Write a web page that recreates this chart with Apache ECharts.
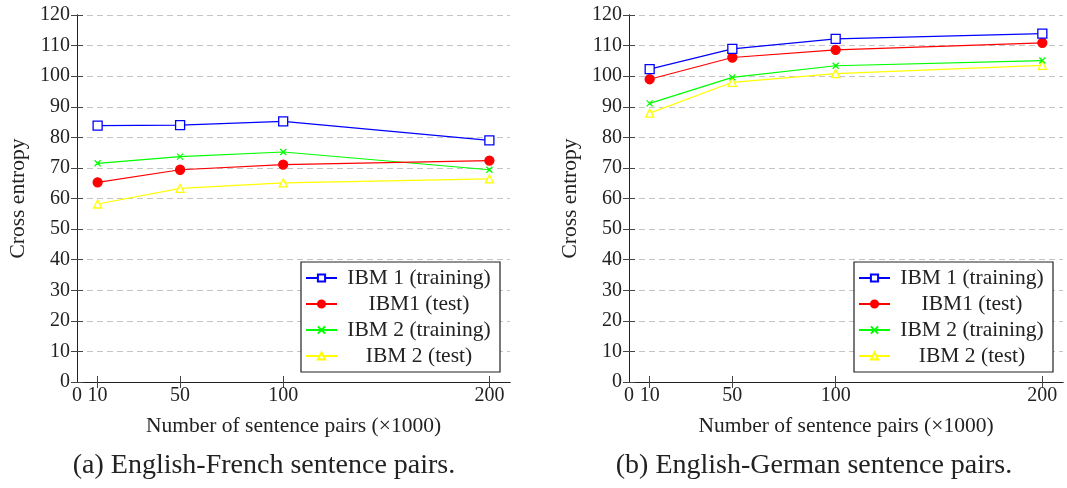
<!DOCTYPE html>
<html><head><meta charset="utf-8">
<script src="https://cdn.jsdelivr.net/npm/echarts@6/dist/echarts.min.js"></script>
<style>html,body{margin:0;padding:0;background:#fff}#c{width:1067px;height:488px}</style>
</head><body><div id="c"></div>
<script>
const xValues = [10, 50, 100, 200];
const xTickLabels = [0, 10, 50, 100, 200];
const seriesNames = ['IBM 1 (training)', 'IBM1 (test)', 'IBM 2 (training)', 'IBM 2 (test)'];
// English-French
const frIBM1Train = [83.8, 84.0, 85.2, 79.0];
const frIBM1Test  = [65.3, 69.4, 71.1, 72.4];
const frIBM2Train = [71.5, 73.7, 75.2, 69.4];
const frIBM2Test  = [58.2, 63.3, 65.1, 66.4];
// English-German
const deIBM1Train = [102.3, 108.9, 112.2, 113.9];
const deIBM1Test  = [99.0, 106.1, 108.6, 110.9];
const deIBM2Train = [91.1, 99.6, 103.4, 105.1];
const deIBM2Test  = [87.9, 98.0, 100.8, 103.5];
const captions = ['(a) English-French sentence pairs.', '(b) English-German sentence pairs.'];
const xName = 'Number of sentence pairs (\u00d71000)';
const yName = 'Cross entropy';

const FONT = '"Liberation Serif", "DejaVu Serif", serif';
const grids = [
  {left: 77, top: 15, width: 433, height: 367},
  {left: 629, top: 15, width: 434, height: 367}
];
const styles = [
  {color: '#0000ff', symbol: 'rect', symbolSize: 9, fill: '#ffffff'},
  {color: '#ff0000', symbol: 'circle', symbolSize: 9, fill: '#ff0000'},
  {color: '#00ff00', symbol: 'path://M0,0L10,10M10,0L0,10', symbolSize: 6, fill: 'none'},
  {color: '#ffff00', symbol: 'triangle', symbolSize: 8, fill: '#ffffff'}
];
const dataSets = [
  [frIBM1Train, frIBM1Test, frIBM2Train, frIBM2Test],
  [deIBM1Train, deIBM1Test, deIBM2Train, deIBM2Test]
];

const xAxes = [], yAxes = [], series = [], legends = [], graphics = [];
grids.forEach((g, gi) => {
  xAxes.push({
    gridIndex: gi, type: 'value', min: 0, max: 210, position: 'bottom',
    name: xName, nameLocation: 'middle', nameGap: 33,
    nameTextStyle: {fontFamily: FONT, fontSize: 21.5, color: '#222'},
    axisLine: {lineStyle: {color: '#222', width: 1}},
    axisTick: {inside: true, length: 6, customValues: xValues, lineStyle: {color: '#444'}},
    axisLabel: {customValues: xTickLabels, fontFamily: FONT, fontSize: 20, color: '#222', margin: 4},
    splitLine: {show: false}
  });
  xAxes.push({
    gridIndex: gi, type: 'value', min: 0, max: 210, position: 'top',
    axisLine: {lineStyle: {color: '#222', width: 1}},
    axisTick: {inside: true, length: 6, customValues: xValues, lineStyle: {color: '#444'}},
    axisLabel: {show: false}, splitLine: {show: false}
  });
  yAxes.push({
    gridIndex: gi, type: 'value', min: 0, max: 120, interval: 10, position: 'left',
    name: yName, nameLocation: 'middle', nameGap: 48, nameRotate: 90,
    nameTextStyle: {fontFamily: FONT, fontSize: 21.5, color: '#222'},
    axisLine: {show: true, lineStyle: {color: '#222', width: 1}},
    axisTick: {show: true, inside: true, length: 6, lineStyle: {color: '#444'}},
    axisLabel: {fontFamily: FONT, fontSize: 20, color: '#222', margin: 7},
    splitLine: {show: true, lineStyle: {color: '#c4c4c4', type: [6, 4], width: 1}}
  });
  yAxes.push({
    gridIndex: gi, type: 'value', min: 0, max: 120, interval: 10, position: 'right',
    axisLine: {show: true, lineStyle: {color: '#222', width: 1}},
    axisTick: {show: true, inside: true, length: 6, lineStyle: {color: '#444'}},
    axisLabel: {show: false}, splitLine: {show: false}
  });
  dataSets[gi].forEach((vals, si) => {
    const st = styles[si];
    series.push({
      name: seriesNames[si], type: 'line', xAxisIndex: gi * 2, yAxisIndex: gi * 2,
      data: xValues.map((x, i) => [x, vals[i]]),
      symbol: st.symbol, symbolSize: st.symbolSize, showAllSymbol: true,
      lineStyle: {color: st.color, width: 1.2},
      itemStyle: {color: st.fill, borderColor: st.color, borderWidth: 1.3},
      emphasis: {disabled: true}, animation: false, z: 10 - si
    });
  });
  legends.push({
    orient: 'vertical', left: g.left + g.width - 209, top: 262,
    data: seriesNames, itemWidth: 31, itemHeight: 9, itemGap: 4,
    padding: [5, 4, 5, 4], backgroundColor: '#fff', borderColor: '#222', borderWidth: 1.2,
    selectedMode: false,
    formatter: n => '{t|' + n + '}',
    textStyle: {fontFamily: FONT, fontSize: 21.5, color: '#222',
      rich: {t: {width: 154, align: 'center', fontFamily: FONT, fontSize: 21.5, lineHeight: 20.5, color: '#222'}}}
  });
  graphics.push({
    type: 'text',
    style: {text: captions[gi], font: '28px ' + FONT, fill: '#222', textAlign: 'center', textVerticalAlign: 'middle', x: gi === 0 ? 264 : 814, y: 466}
  });
});

const chart = echarts.init(document.getElementById('c'), null, {renderer: 'canvas'});
chart.setOption({
  animation: false,
  grid: grids.map(g => Object.assign({containLabel: false}, g)),
  xAxis: xAxes, yAxis: yAxes, series, legend: legends,
  graphic: graphics
});
</script></body></html>
